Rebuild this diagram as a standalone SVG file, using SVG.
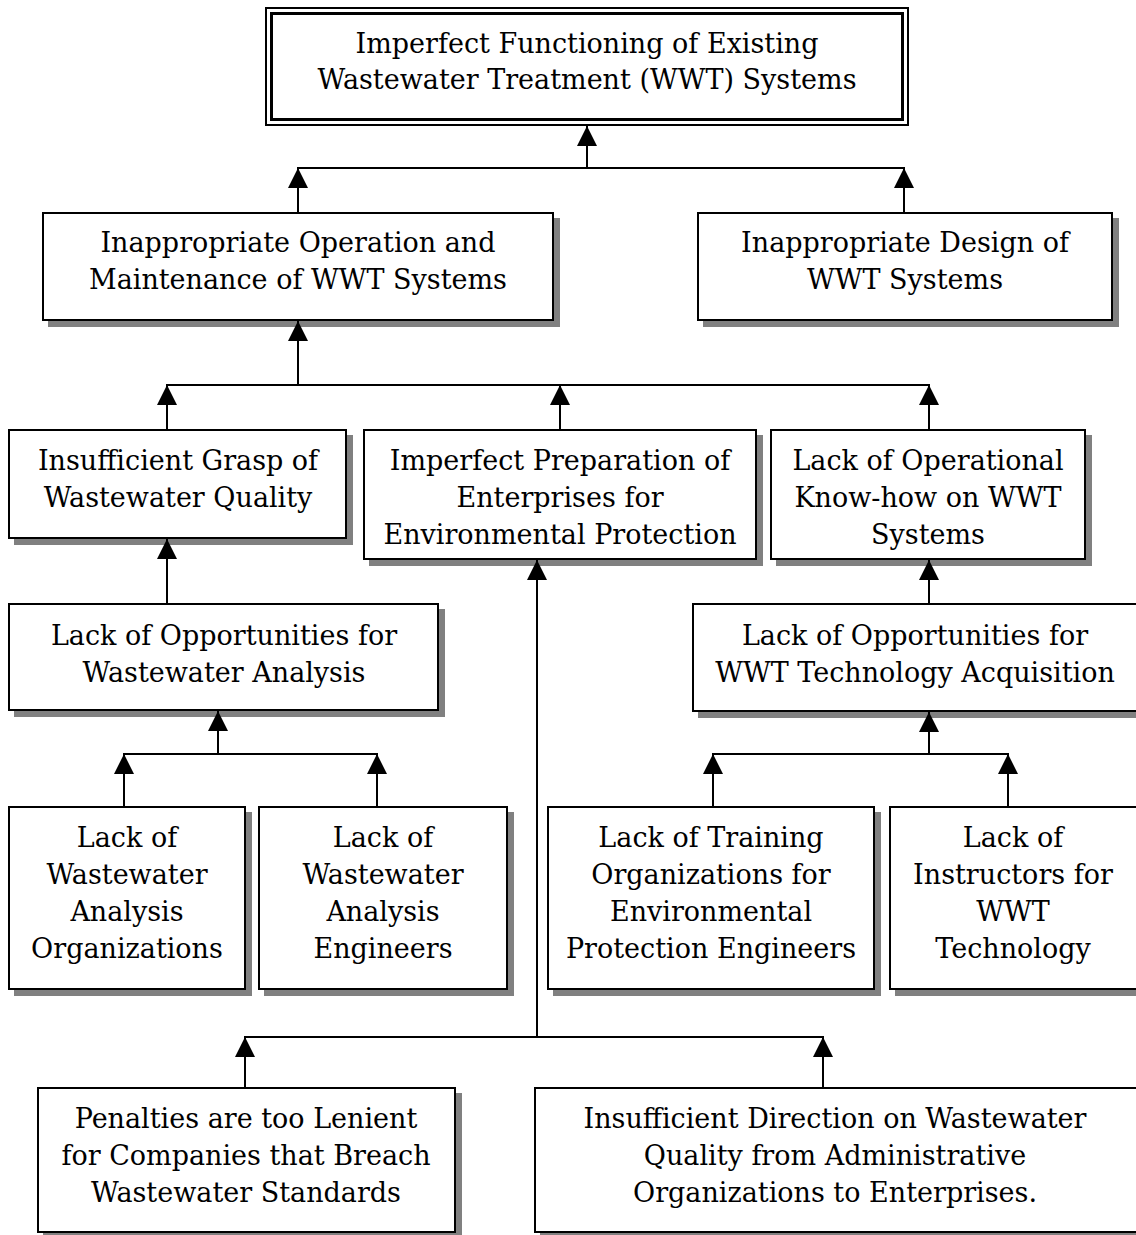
<svg xmlns="http://www.w3.org/2000/svg" width="1136" height="1235" viewBox="0 0 1136 1235">
  <defs>
    <style>
      .box { fill: #ffffff; stroke: #000000; stroke-width: 2; }
      .shadow { fill: #808080; stroke: none; }
      .frame-out { fill: #ffffff; stroke: #000000; stroke-width: 2; }
      .frame-in { fill: none; stroke: #000000; stroke-width: 3; }
      .label { font-family: "DejaVu Serif", "Liberation Serif", serif; font-size: 27px; fill: #000000; text-anchor: middle; }
      .wire { fill: none; stroke: #000000; stroke-width: 2; }
      .arrow { fill: none; stroke: #000000; stroke-width: 2; marker-end: url(#head); }
    </style>
    <marker id="head" markerUnits="userSpaceOnUse" markerWidth="20" markerHeight="20" viewBox="0 0 20 20" refX="20" refY="10" orient="auto">
      <path d="M0,0 L20,10 L0,20 Z" fill="#000000"/>
    </marker>
  </defs>

  <rect width="1136" height="1235" fill="#ffffff"/>

  <!-- root problem -->
  <g id="n-root">
    <rect class="frame-out" x="266" y="8" width="642" height="117"/>
    <rect class="frame-in" x="271.5" y="13.5" width="631" height="106"/>
    <text class="label" x="587" y="53">Imperfect Functioning of Existing</text>
    <text class="label" x="587" y="89">Wastewater Treatment (WWT) Systems</text>
  </g>

  <g id="n-operation">
    <rect class="shadow" x="48" y="218" width="512" height="109"/>
    <rect class="box" x="43" y="213" width="510" height="107"/>
    <text class="label" x="298" y="252">Inappropriate Operation and</text>
    <text class="label" x="298" y="289">Maintenance of WWT Systems</text>
  </g>

  <g id="n-design">
    <rect class="shadow" x="703" y="218" width="416" height="109"/>
    <rect class="box" x="698" y="213" width="414" height="107"/>
    <text class="label" x="905" y="252">Inappropriate Design of</text>
    <text class="label" x="905" y="289">WWT Systems</text>
  </g>

  <g id="n-grasp">
    <rect class="shadow" x="14" y="435" width="339" height="110"/>
    <rect class="box" x="9" y="430" width="337" height="108"/>
    <text class="label" x="178" y="470">Insufficient Grasp of</text>
    <text class="label" x="178" y="507">Wastewater Quality</text>
  </g>

  <g id="n-preparation">
    <rect class="shadow" x="369" y="435" width="394" height="131"/>
    <rect class="box" x="364" y="430" width="392" height="129"/>
    <text class="label" x="560" y="470">Imperfect Preparation of</text>
    <text class="label" x="560" y="507">Enterprises for</text>
    <text class="label" x="560" y="544">Environmental Protection</text>
  </g>

  <g id="n-knowhow">
    <rect class="shadow" x="776" y="435" width="316" height="131"/>
    <rect class="box" x="771" y="430" width="314" height="129"/>
    <text class="label" x="928" y="470">Lack of Operational</text>
    <text class="label" x="928" y="507">Know-how on WWT</text>
    <text class="label" x="928" y="544">Systems</text>
  </g>

  <g id="n-analysis-opps">
    <rect class="shadow" x="14" y="609" width="431" height="108"/>
    <rect class="box" x="9" y="604" width="429" height="106"/>
    <text class="label" x="224" y="645">Lack of Opportunities for</text>
    <text class="label" x="224" y="682">Wastewater Analysis</text>
  </g>

  <g id="n-tech-opps">
    <rect class="shadow" x="698" y="609" width="450" height="109"/>
    <rect class="box" x="693" y="604" width="450" height="107"/>
    <text class="label" x="915" y="645">Lack of Opportunities for</text>
    <text class="label" x="915" y="682">WWT Technology Acquisition</text>
  </g>

  <g id="n-analysis-orgs">
    <rect class="shadow" x="14" y="812" width="238" height="184"/>
    <rect class="box" x="9" y="807" width="236" height="182"/>
    <text class="label" x="127" y="847">Lack of</text>
    <text class="label" x="127" y="884">Wastewater</text>
    <text class="label" x="127" y="921">Analysis</text>
    <text class="label" x="127" y="958">Organizations</text>
  </g>

  <g id="n-analysis-engineers">
    <rect class="shadow" x="264" y="812" width="250" height="184"/>
    <rect class="box" x="259" y="807" width="248" height="182"/>
    <text class="label" x="383" y="847">Lack of</text>
    <text class="label" x="383" y="884">Wastewater</text>
    <text class="label" x="383" y="921">Analysis</text>
    <text class="label" x="383" y="958">Engineers</text>
  </g>

  <g id="n-training-orgs">
    <rect class="shadow" x="553" y="812" width="328" height="184"/>
    <rect class="box" x="548" y="807" width="326" height="182"/>
    <text class="label" x="711" y="847">Lack of Training</text>
    <text class="label" x="711" y="884">Organizations for</text>
    <text class="label" x="711" y="921">Environmental</text>
    <text class="label" x="711" y="958">Protection Engineers</text>
  </g>

  <g id="n-instructors">
    <rect class="shadow" x="895" y="812" width="260" height="184"/>
    <rect class="box" x="890" y="807" width="260" height="182"/>
    <text class="label" x="1013" y="847">Lack of</text>
    <text class="label" x="1013" y="884">Instructors for</text>
    <text class="label" x="1013" y="921">WWT</text>
    <text class="label" x="1013" y="958">Technology</text>
  </g>

  <g id="n-penalties">
    <rect class="shadow" x="43" y="1093" width="419" height="150"/>
    <rect class="box" x="38" y="1088" width="417" height="144"/>
    <text class="label" x="246" y="1128">Penalties are too Lenient</text>
    <text class="label" x="246" y="1165">for Companies that Breach</text>
    <text class="label" x="246" y="1202">Wastewater Standards</text>
  </g>

  <g id="n-direction">
    <rect class="shadow" x="540" y="1093" width="620" height="150"/>
    <rect class="box" x="535" y="1088" width="620" height="144"/>
    <text class="label" x="835" y="1128">Insufficient Direction on Wastewater</text>
    <text class="label" x="835" y="1165">Quality from Administrative</text>
    <text class="label" x="835" y="1202">Organizations to Enterprises.</text>
  </g>

  <!-- cause-to-effect connectors -->
  <g id="connectors">
    <!-- level 1 -->
    <line class="arrow" x1="587" y1="168" x2="587" y2="126"/>
    <line class="wire" x1="297" y1="168" x2="905" y2="168"/>
    <line class="arrow" x1="298" y1="212" x2="298" y2="168"/>
    <line class="arrow" x1="904" y1="212" x2="904" y2="168"/>
    <!-- level 2 -->
    <line class="arrow" x1="298" y1="385" x2="298" y2="321"/>
    <line class="wire" x1="166" y1="385" x2="930" y2="385"/>
    <line class="arrow" x1="167" y1="429" x2="167" y2="385"/>
    <line class="arrow" x1="560" y1="429" x2="560" y2="385"/>
    <line class="arrow" x1="929" y1="429" x2="929" y2="385"/>
    <!-- grasp / know-how -->
    <line class="arrow" x1="167" y1="603" x2="167" y2="539"/>
    <line class="arrow" x1="929" y1="603" x2="929" y2="560"/>
    <!-- analysis branch -->
    <line class="arrow" x1="218" y1="754" x2="218" y2="711"/>
    <line class="wire" x1="123" y1="754" x2="378" y2="754"/>
    <line class="arrow" x1="124" y1="806" x2="124" y2="754"/>
    <line class="arrow" x1="377" y1="806" x2="377" y2="754"/>
    <!-- technology branch -->
    <line class="arrow" x1="929" y1="754" x2="929" y2="712"/>
    <line class="wire" x1="712" y1="754" x2="1009" y2="754"/>
    <line class="arrow" x1="713" y1="806" x2="713" y2="754"/>
    <line class="arrow" x1="1008" y1="806" x2="1008" y2="754"/>
    <!-- enterprise preparation branch -->
    <line class="arrow" x1="537" y1="1037" x2="537" y2="560"/>
    <line class="wire" x1="244" y1="1037" x2="824" y2="1037"/>
    <line class="arrow" x1="245" y1="1087" x2="245" y2="1037"/>
    <line class="arrow" x1="823" y1="1087" x2="823" y2="1037"/>
  </g>
</svg>
